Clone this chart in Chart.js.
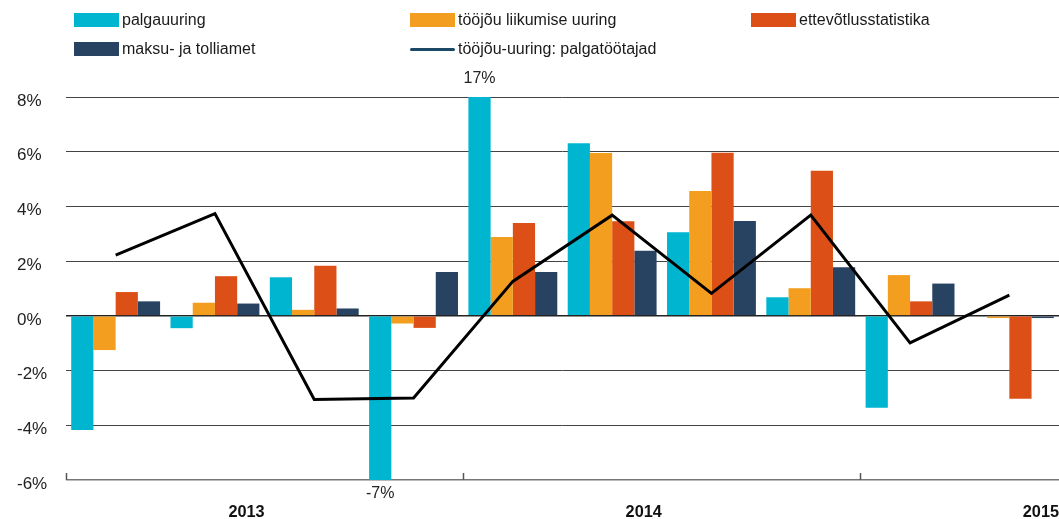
<!DOCTYPE html>
<html>
<head>
<meta charset="utf-8">
<script src="https://cdn.jsdelivr.net/npm/chart.js@4/dist/chart.umd.min.js"></script>
<style>
  html, body { margin: 0; padding: 0; background: #fff; }
  #wrap { position: relative; width: 1059px; height: 519px; }
  #chart { position: absolute; left: 0; top: 0; }
  .lg { position: absolute; display: flex; align-items: center; font: 16px "Liberation Sans", Arial, sans-serif; color: #1a1a1a; white-space: nowrap; }
  .lg .sw { width: 45px; height: 14px; margin-right: 3px; }
  .lg .ln { width: 45px; height: 3px; margin-right: 3px; border-radius: 2px; }
</style>
</head>
<body>
<div id="wrap">
  <canvas id="chart" width="1059" height="519"></canvas>
</div>
<script>
// quarters 2013 I .. 2015 II
const quarters = ["2013 I", "2013 II", "2013 III", "2013 IV", "2014 I", "2014 II", "2014 III", "2014 IV", "2015 I", "2015 II"];
const yearTicks = [2, 6, 10];
const yearLabels = ["2013", "2014", "2015"];
const yearEdges = [0, 4, 8];

const palgauuring = [-4.17, -0.45, 1.41, -7, 17, 6.31, 3.06, 0.68, -3.36, null];
const liikumiseUuring = [-1.25, 0.48, 0.22, -0.28, 2.88, 5.95, 4.56, 1.01, 1.49, -0.08];
const ettevotlus = [0.87, 1.45, 1.83, -0.44, 3.39, 3.46, 5.96, 5.30, 0.53, -3.03];
const maksuamet = [0.53, 0.45, 0.27, 1.60, 1.60, 2.38, 3.47, 1.78, 1.18, -0.08];
const palgatootajad = [2.22, 3.74, -3.06, -3.0, 1.26, 3.68, 0.82, 3.68, -0.99, 0.76];

const FONT = '"Liberation Sans", Arial, sans-serif';

const barOpts = { type: "bar", order: 1, borderWidth: 0, barPercentage: 1, categoryPercentage: 0.895 };

const datasets = [
  { ...barOpts, label: "palgauuring", data: palgauuring, backgroundColor: "#00b5cf" },
  { ...barOpts, label: "tööjõu liikumise uuring", data: liikumiseUuring, backgroundColor: "#f49e1f" },
  { ...barOpts, label: "ettevõtlusstatistika", data: ettevotlus, backgroundColor: "#dc4f16" },
  { ...barOpts, label: "maksu- ja tolliamet", data: maksuamet, backgroundColor: "#284361" },
  {
    type: "line", order: 0, label: "tööjõu-uuring: palgatöötajad", data: palgatootajad,
    borderColor: "#000", borderWidth: 3, pointRadius: 0, tension: 0, fill: false,
    legendColor: "#1c4966",
  },
];

// legend in the same grid as the original (3 columns, 2 rows)
const legendPos = [[74, 13], [410, 13], [751, 13], [74, 42], [410, 42]];
const wrap = document.getElementById("wrap");
datasets.forEach((ds, i) => {
  const item = document.createElement("div");
  item.className = "lg";
  item.style.left = legendPos[i][0] + "px";
  item.style.top = (legendPos[i][1] - 3) + "px";
  item.style.height = "20px";
  const mark = document.createElement("div");
  if (ds.type === "line") {
    mark.className = "ln";
    mark.style.background = ds.legendColor;
  } else {
    mark.className = "sw";
    mark.style.background = ds.backgroundColor;
  }
  const txt = document.createElement("span");
  txt.textContent = ds.label;
  item.appendChild(mark);
  item.appendChild(txt);
  wrap.appendChild(item);
});

// labels for the bars that run off the scale, and the year tick marks
const extras = {
  id: "extras",
  afterDraw(chart) {
    const { ctx, chartArea, scales } = chart;
    const y = scales.y;
    ctx.save();
    ctx.font = "16px " + FONT;
    ctx.fillStyle = "#222";
    ctx.textAlign = "center";
    ctx.textBaseline = "middle";
    chart.getDatasetMeta(0).data.forEach((el, i) => {
      const v = palgauuring[i];
      if (v == null) return;
      if (v > y.max) ctx.fillText(v + "%", el.x, chartArea.top - 18);
      if (v < y.min) ctx.fillText(v + "%", el.x, chartArea.bottom + 14);
    });
    ctx.strokeStyle = "#555";
    ctx.lineWidth = 1.5;
    yearEdges.forEach((v) => {
      const x = Math.round(scales.yr.getPixelForValue(v)) + 0.5;
      ctx.beginPath();
      ctx.moveTo(x, chartArea.bottom);
      ctx.lineTo(x, chartArea.bottom - 7);
      ctx.stroke();
    });
    ctx.restore();
  },
};

new Chart(document.getElementById("chart"), {
  data: { labels: quarters, datasets },
  options: {
    responsive: false,
    animation: false,
    layout: { padding: { top: 97, left: 17, right: 0, bottom: 0 } },
    plugins: { legend: { display: false }, tooltip: { enabled: false } },
    scales: {
      x: { display: false, offset: true },
      yr: {
        type: "linear", position: "bottom", min: 0, max: 10,
        afterBuildTicks: (s) => { s.ticks = yearTicks.map((v) => ({ value: v })); },
        afterFit: (s) => { s.height = 39; s.paddingLeft = 0; s.paddingRight = 0; },
        grid: { display: false, drawTicks: false },
        border: { display: false },
        ticks: {
          align: "end", padding: 23, maxRotation: 0, autoSkip: false,
          color: "#111", font: { family: FONT, size: 16.3, weight: "bold" },
          callback: (v) => yearLabels[yearTicks.indexOf(v)],
        },
      },
      y: {
        min: -6, max: 8,
        afterBuildTicks: (s) => { s.ticks = [-6, -4, -2, 0, 2, 4, 6, 8].map((v) => ({ value: v })); },
        afterFit: (s) => { s.width = 49; s.paddingTop = 0; s.paddingBottom = 0; },
        border: { display: false },
        grid: {
          drawTicks: false,
          color: (c) => (c.tick.value === -6 ? "#777" : c.tick.value === 0 ? "#222" : "#444"),
          lineWidth: (c) => (c.tick.value === -6 || c.tick.value === 0 ? 1.5 : 1),
        },
        ticks: {
          crossAlign: "far", padding: 0, labelOffset: 4, color: "#222",
          font: { family: FONT, size: 17 },
          callback: (v) => v + "%",
        },
      },
    },
  },
  plugins: [extras],
});
</script>
</body>
</html>
